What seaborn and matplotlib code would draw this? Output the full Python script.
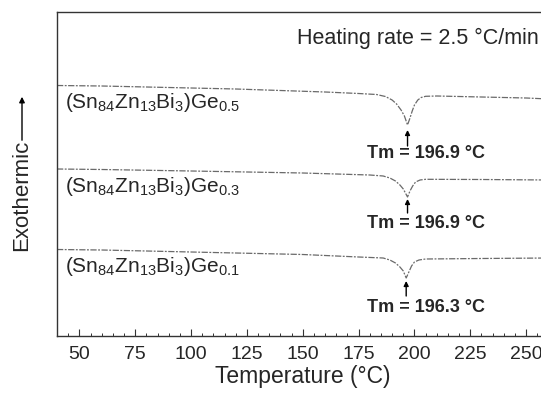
import matplotlib
matplotlib.use("Agg")
import matplotlib.pyplot as plt
import seaborn as sns
import pandas as pd
from matplotlib.ticker import MultipleLocator

# ---- data (heat flow in arbitrary units) ----
t_ge05 = [40, 60, 80, 100, 120, 140, 160, 175, 183, 187, 190, 192, 194, 195.5, 196.9,
          198, 199, 200, 201.5, 203, 205, 210, 230, 250, 260]
hf_ge05 = [250.5, 250, 249, 248, 247, 245.5, 244, 242.5, 241.5, 239.5, 236, 232, 226, 220, 211,
           218, 225, 231, 236, 238.5, 239.7, 240, 239, 238, 237]

t_ge03 = [40, 60, 100, 150, 180, 186, 189, 191.5, 193.5, 195, 196.9, 198, 199.2, 200.5,
          202.5, 205, 230, 260]
hf_ge03 = [167, 166.5, 165, 163, 161, 160, 158, 155, 151, 147, 139, 145, 150, 154,
           156, 156.7, 156.5, 156]

t_ge01 = [40, 60, 100, 150, 175, 186, 189, 191.5, 193.5, 195, 196.3, 197.5, 198.7, 200,
          202, 205, 230, 260]
hf_ge01 = [86.5, 86, 84, 81.5, 79, 78, 76, 73, 69, 65, 58, 64, 70, 74,
           76, 77, 77.5, 78]

sample_labels = [r"(Sn$_{84}$Zn$_{13}$Bi$_{3}$)Ge$_{0.5}$",
                 r"(Sn$_{84}$Zn$_{13}$Bi$_{3}$)Ge$_{0.3}$",
                 r"(Sn$_{84}$Zn$_{13}$Bi$_{3}$)Ge$_{0.1}$"]
tm_values = [196.9, 196.9, 196.3]
tm_labels = ["Tm = 196.9 °C", "Tm = 196.9 °C", "Tm = 196.3 °C"]
x_ticks = [50, 75, 100, 125, 150, 175, 200, 225, 250]

# ---- style ----
sns.set_style("ticks")
plt.rcParams["font.family"] = ["Liberation Sans", "DejaVu Sans"]
plt.rcParams["mathtext.fontset"] = "custom"
plt.rcParams["mathtext.rm"] = "Liberation Sans"
plt.rcParams["mathtext.it"] = "Liberation Sans:italic"
plt.rcParams["mathtext.bf"] = "Liberation Sans:bold"

fig = plt.figure(figsize=(5.41, 3.93), dpi=100)
ax = fig.add_axes([57 / 541, 57 / 393, 491.5 / 541, 324 / 393])

frames = [(t_ge05, hf_ge05), (t_ge03, hf_ge03), (t_ge01, hf_ge01)]
for (t, hf) in frames:
    df = pd.DataFrame({"T": t, "HF": hf})
    sns.lineplot(data=df, x="T", y="HF", ax=ax, color="#6a6a6a", lw=0.9,
                 linestyle=(0, (5, 1.2, 1.5, 1.2)), sort=False)

ax.set_xlim(40, 260)
ax.set_ylim(0, 324)
ax.set_xticks(x_ticks)
ax.xaxis.set_minor_locator(MultipleLocator(5))
ax.tick_params(axis="x", which="major", direction="in", length=5, width=0.8,
               labelsize=14, pad=7, top=False, color="#333333")
ax.tick_params(axis="x", which="minor", direction="in", length=2.5, width=0.7,
               top=False, color="#333333")
ax.set_yticks([])
ax.set_ylabel("")
ax.set_xlabel("Temperature (°C)", fontsize=16.5, labelpad=2)
for s in ax.spines.values():
    s.set_linewidth(1.0)
    s.set_color("#333333")

# sample labels
label_y = [234, 150, 69]
for lab, y in zip(sample_labels, label_y):
    ax.text(43.5, y, lab, fontsize=15, va="center", ha="left")

# Tm arrows + labels
tip_y = [206, 137, 55]
tail_y = [190, 123, 40]
text_y = [183, 112, 28]
for tm, lab, ty, tl, tx in zip(tm_values, tm_labels, tip_y, tail_y, text_y):
    ax.annotate("", xy=(tm, ty), xytext=(tm, tl),
                arrowprops=dict(arrowstyle="-|>", color="black", lw=1.0,
                                mutation_scale=7, shrinkA=0, shrinkB=0))
    ax.text(205, tx, lab, fontsize=13, fontweight="bold", ha="center", va="center")

ax.text(255.5, 298, "Heating rate = 2.5 °C/min", fontsize=15.5, ha="right", va="center")

# y-axis "Exothermic" with arrow
fig.text(22 / 541, 1 - 195 / 393, "Exothermic", rotation=90, fontsize=16,
         ha="center", va="center")
fig.add_artist(matplotlib.patches.FancyArrowPatch(
    (22 / 541, 1 - 143 / 393), (22 / 541, 1 - 94 / 393), transform=fig.transFigure,
    arrowstyle="-|>", mutation_scale=8, color="black", lw=1.0))

fig.savefig("out.png", dpi=100)
